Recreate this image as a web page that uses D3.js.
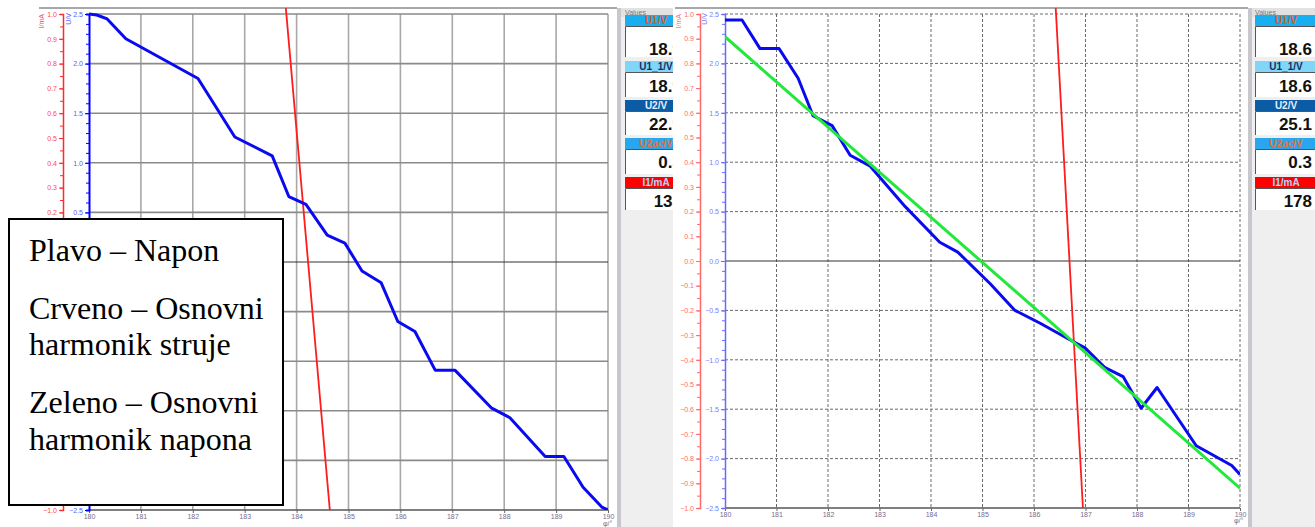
<!DOCTYPE html>
<html>
<head>
<meta charset="utf-8">
<script src="https://cdn.jsdelivr.net/npm/d3@7"></script>
<style>
  body { margin: 0; background: #fff; }
  svg text { font-family: "Liberation Sans", Arial, sans-serif; }
</style>
</head>
<body>
<svg id="chart" width="1315" height="527"></svg>
<script>
// phase axis (degrees) and tick labels
var phaseDomain = [180, 190];
var phaseTicks = [180, 181, 182, 183, 184, 185, 186, 187, 188, 189, 190];
var voltageLabels = [-2.5, -2.0, -1.5, -1.0, -0.5, 0.0, 0.5, 1.0, 1.5, 2.0, 2.5];
var currentLabels = [-1.0, -0.9, -0.8, -0.7, -0.6, -0.5, -0.4, -0.3, -0.2, -0.1, 0.0,
                     0.1, 0.2, 0.3, 0.4, 0.5, 0.6, 0.7, 0.8, 0.9, 1.0];

// left screen: measured voltage (blue) and current fundamental (red)
var leftVoltage = [
  [180.00, 2.50], [180.15, 2.49], [180.35, 2.45], [180.71, 2.25], [182.10, 1.85],
  [182.81, 1.26], [183.53, 1.07], [183.85, 0.66], [184.18, 0.58], [184.59, 0.27],
  [184.93, 0.19], [185.26, -0.09], [185.63, -0.21], [185.95, -0.60], [186.28, -0.70],
  [186.67, -1.09], [187.05, -1.09], [187.75, -1.47], [188.11, -1.57], [188.79, -1.96],
  [189.15, -1.96], [189.52, -2.27], [189.88, -2.47], [190.00, -2.50]
];
var leftCurrent = [[183.79, 1.03], [184.64, -1.00]];

// right screen: measured voltage, voltage fundamental (green), current fundamental
var rightVoltage = [
  [180.00, 2.44], [180.33, 2.44], [180.68, 2.15], [181.05, 2.15], [181.42, 1.85],
  [181.71, 1.47], [182.08, 1.37], [182.43, 1.07], [182.82, 0.96], [183.50, 0.55],
  [184.17, 0.19], [184.52, 0.09], [185.15, -0.23], [185.63, -0.50], [186.12, -0.63],
  [186.74, -0.81], [186.99, -0.88], [187.38, -1.08], [187.73, -1.17], [188.08, -1.49],
  [188.39, -1.28], [189.15, -1.87], [189.84, -2.07], [190.00, -2.16]
];
var rightFit = [[180.00, 2.27], [190.00, -2.30]];
var rightCurrent = [[186.42, 1.03], [186.95, -1.00]];

// value boxes
var valueNames = ["U1/V", "U1_1/V", "U2/V", "U2ac/V", "I1/mA"];
var leftReadings = ["18.9", "18.9", "22.9", "0.3", "135"];
var rightReadings = ["18.6", "18.6", "25.1", "0.3", "178"];

var legendLines = [
  ["Plavo – Napon"],
  ["Crveno – Osnovni", "harmonik struje"],
  ["Zeleno – Osnovni", "harmonik napona"]
];

// box styling
var headerFill = ["#18aef0", "#80d6f6", "#0b5ca4", "#2aa6ee", "#ff0000"];
var headerInk = ["#e4582e", "#1c2a66", "#e8eeff", "#e0703e", "#a8dcff"];
var headerTop = [15, 61, 100, 138, 177];
var boxBottom = [57, 97, 135, 174, 210];
var readingBase = [55, 92, 130, 168, 207];

// legend box (covers part of the left screen)
var legendBox = { x: 9, y: 219, w: 274, h: 286 };

var svg = d3.select("#chart");
var defs = svg.append("defs");

var panels = [
  { id: "left", x0: 0, x1: 673, frameLeft: 39, redX: 63, blueX: 89, right: 608,
    top: 14, bottom: 510, valuesX: 617, boxX: 625,
    voltage: leftVoltage, current: leftCurrent, fit: null, readings: leftReadings,
    dashed: false, redAxis: "#ff2a2a", blueAxis: "#0000ff", redInk: "#ff4a4a", blueInk: "#5a5aff",
    xLabelY: 519, unitX: 603, unitY: 526, covered: true },
  { id: "right", x0: 673, x1: 1315, frameLeft: 675, redX: 700, blueX: 725, right: 1240,
    top: 14, bottom: 508, valuesX: 1248, boxX: 1255,
    voltage: rightVoltage, current: rightCurrent, fit: rightFit, readings: rightReadings,
    dashed: true, redAxis: "#ff6a6a", blueAxis: "#6a6aff", redInk: "#ff6a6a", blueInk: "#7a7aff",
    xLabelY: 517, unitX: 1234, unitY: 523, covered: false }
];

panels.forEach(drawPanel);
drawLegend();

function hiddenByLegend(p, py) {
  return p.covered && py > legendBox.y - 2 && py < legendBox.y + legendBox.h;
}

function drawPanel(p) {
  defs.append("clipPath").attr("id", p.id + "-clip")
    .append("rect").attr("x", p.x0).attr("y", 0).attr("width", p.x1 - p.x0).attr("height", 527);
  defs.append("clipPath").attr("id", p.id + "-plot")
    .append("rect").attr("x", p.blueX).attr("y", 8).attr("width", p.right - p.blueX).attr("height", p.bottom - 8);

  var g = svg.append("g").attr("clip-path", "url(#" + p.id + "-clip)");
  g.append("rect").attr("x", p.x0).attr("y", 0).attr("width", p.x1 - p.x0).attr("height", 527).attr("fill", "#fff");

  var x = d3.scaleLinear().domain(phaseDomain).range([p.blueX, p.right]);
  var yU = d3.scaleLinear().domain([-2.5, 2.5]).range([p.bottom, p.top]);
  var yI = d3.scaleLinear().domain([-1, 1]).range([p.bottom, p.top]);

  // frame line on top
  g.append("line").attr("x1", p.frameLeft).attr("x2", p.valuesX).attr("y1", 8).attr("y2", 8)
    .attr("stroke", "#8a8a8a").attr("stroke-width", 1.5);

  // grid
  var grid = g.append("g");
  grid.selectAll(".vg").data(phaseTicks.slice(1)).enter().append("line")
    .attr("x1", d => x(d)).attr("x2", d => x(d)).attr("y1", p.top).attr("y2", p.bottom)
    .attr("stroke", p.dashed ? "#6a6a6a" : "#a8a8a8")
    .attr("stroke-width", p.dashed ? 1 : 1.6)
    .attr("stroke-dasharray", p.dashed ? "3,2" : null);
  grid.selectAll(".hg").data(voltageLabels.filter(d => d > -2.5)).enter().append("line")
    .attr("x1", p.blueX).attr("x2", p.right).attr("y1", d => yU(d)).attr("y2", d => yU(d))
    .attr("stroke", d => d === 0 ? "#333" : (p.dashed ? "#6a6a6a" : "#8a8a8a"))
    .attr("stroke-width", d => d === 0 ? 1.2 : (p.dashed ? 1 : 1.6))
    .attr("stroke-dasharray", d => (p.dashed && d !== 0) ? "3,2" : null);

  // bottom axis
  g.append("line").attr("x1", p.blueX).attr("x2", p.right).attr("y1", p.bottom).attr("y2", p.bottom)
    .attr("stroke", "#555").attr("stroke-width", 1.6);
  var xAxis = d3.axisBottom(x).tickValues(phaseTicks).tickSize(3).tickSizeOuter(0)
    .tickFormat(d3.format("d"));
  var xg = g.append("g").attr("transform", "translate(0," + p.bottom + ")").call(xAxis);
  xg.select(".domain").remove();
  xg.selectAll(".tick line").attr("stroke", "#666");
  xg.selectAll(".tick text").attr("y", p.xLabelY - p.bottom).attr("dy", "0")
    .attr("fill", "#7a6a8a").attr("font-size", 7);
  g.append("text").attr("x", p.unitX).attr("y", p.unitY).attr("font-size", 7)
    .attr("fill", "#7a6a8a").text("φ/°");

  // red current axis
  var redMinor = d3.axisLeft(yI).ticks(40).tickSize(3).tickFormat("");
  var rm = g.append("g").attr("transform", "translate(" + p.redX + ",0)").call(redMinor);
  rm.select(".domain").attr("stroke", p.redAxis).attr("stroke-width", 1.5);
  rm.selectAll(".tick line").attr("stroke", p.redAxis);
  var redAxis = d3.axisLeft(yI).tickValues(currentLabels).tickSize(4).tickPadding(2)
    .tickFormat(d3.format(".1f"));
  var ra = g.append("g").attr("transform", "translate(" + p.redX + ",0)").call(redAxis);
  ra.select(".domain").remove();
  ra.selectAll(".tick line").attr("stroke", p.redAxis);
  ra.selectAll(".tick text").attr("fill", p.redInk).attr("font-size", 7);
  ra.selectAll(".tick").filter(d => hiddenByLegend(p, yI(d))).select("text").remove();
  g.append("text").attr("transform", "translate(" + (p.redX - 19) + ",14) rotate(-90)")
    .attr("text-anchor", "end").attr("font-size", 7).attr("fill", p.redInk).text("I/mA");

  // blue voltage axis
  var blueMinor = d3.axisLeft(yU).ticks(50).tickSize(3).tickFormat("");
  var bm = g.append("g").attr("transform", "translate(" + p.blueX + ",0)").call(blueMinor);
  bm.select(".domain").attr("stroke", p.blueAxis).attr("stroke-width", p.dashed ? 1.5 : 2);
  bm.selectAll(".tick line").attr("stroke", p.blueAxis);
  var blueAxis = d3.axisLeft(yU).tickValues(voltageLabels).tickSize(4).tickPadding(2)
    .tickFormat(d3.format(".1f"));
  var ba = g.append("g").attr("transform", "translate(" + p.blueX + ",0)").call(blueAxis);
  ba.select(".domain").remove();
  ba.selectAll(".tick line").attr("stroke", p.blueAxis);
  ba.selectAll(".tick text").attr("fill", p.blueInk).attr("font-size", 7);
  ba.selectAll(".tick").filter(d => hiddenByLegend(p, yU(d))).select("text").remove();
  g.append("text").attr("transform", "translate(" + (p.blueX - 18) + ",13) rotate(-90)")
    .attr("text-anchor", "end").attr("font-size", 7).attr("fill", p.blueInk).text("U/V");

  // traces
  var plot = g.append("g").attr("clip-path", "url(#" + p.id + "-plot)");
  var lineU = d3.line().x(d => x(d[0])).y(d => yU(d[1]));
  var lineI = d3.line().x(d => x(d[0])).y(d => yI(d[1]));
  plot.append("path").datum(p.current).attr("d", lineI)
    .attr("fill", "none").attr("stroke", "#ff1c1c").attr("stroke-width", 1.8);
  plot.append("path").datum(p.voltage).attr("d", lineU)
    .attr("fill", "none").attr("stroke", "#0a0af0").attr("stroke-width", 3)
    .attr("stroke-linejoin", "round");
  if (p.fit) {
    plot.append("path").datum(p.fit).attr("d", lineU)
      .attr("fill", "none").attr("stroke", "#22e83c").attr("stroke-width", 3);
  }

  // values side panel
  var vp = g.append("g");
  vp.append("rect").attr("x", p.valuesX).attr("y", 8).attr("width", 80).attr("height", 519)
    .attr("fill", "#efefef");
  vp.append("rect").attr("x", p.valuesX).attr("y", 8).attr("width", 4).attr("height", 519)
    .attr("fill", "#c8c8cc");
  vp.append("rect").attr("x", p.valuesX + 4).attr("y", 8).attr("width", 76).attr("height", 9)
    .attr("fill", "#e2e2e2");
  vp.append("text").attr("x", p.boxX).attr("y", 15).attr("font-size", 7).attr("fill", "#777")
    .text("Values");

  var boxes = vp.selectAll(".vbox").data(valueNames).enter().append("g");
  boxes.append("rect").attr("x", p.boxX).attr("y", (d, i) => headerTop[i] + 11)
    .attr("width", 62).attr("height", (d, i) => boxBottom[i] - headerTop[i] - 11)
    .attr("fill", "#fff");
  boxes.append("path")
    .attr("d", (d, i) => "M" + (p.boxX + 0.5) + "," + boxBottom[i] + "V" + (headerTop[i] + 11.5) + "H" + (p.boxX + 62))
    .attr("fill", "none").attr("stroke", "#555").attr("stroke-width", 1);
  boxes.append("rect").attr("x", p.boxX).attr("y", (d, i) => headerTop[i])
    .attr("width", 62).attr("height", 11).attr("fill", (d, i) => headerFill[i]);
  boxes.append("text").attr("x", p.boxX + 31).attr("y", (d, i) => headerTop[i] + 9)
    .attr("text-anchor", "middle").attr("font-size", 10).attr("font-weight", "bold")
    .attr("fill", (d, i) => headerInk[i]).text(d => d);
  boxes.append("text").attr("x", p.boxX + 57).attr("y", (d, i) => readingBase[i])
    .attr("text-anchor", "end").attr("font-size", 17).attr("font-weight", "bold")
    .attr("fill", "#111").text((d, i) => p.readings[i]);
}

function drawLegend() {
  var lg = svg.append("g");
  lg.append("rect").attr("x", legendBox.x).attr("y", legendBox.y)
    .attr("width", legendBox.w).attr("height", legendBox.h)
    .attr("fill", "#fff").attr("stroke", "#000").attr("stroke-width", 2);
  var baselines = [[261], [319, 355], [413, 450]];
  legendLines.forEach(function(par, i) {
    par.forEach(function(line, j) {
      lg.append("text").attr("x", 29).attr("y", baselines[i][j])
        .style("font-family", "'Liberation Serif', 'Times New Roman', serif")
        .attr("font-size", 32).attr("fill", "#000").text(line);
    });
  });
}
</script>
</body>
</html>
